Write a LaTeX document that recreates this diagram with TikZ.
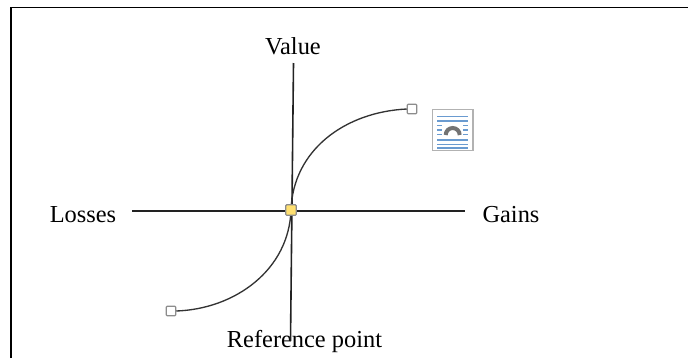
\documentclass[tikz,border=0pt]{standalone}
\usepackage{fontspec}
\setmainfont{Liberation Serif}
\definecolor{axisc}{HTML}{222222}
\definecolor{curvec}{HTML}{333333}
\definecolor{handleb}{HTML}{8C8C8C}
\definecolor{handley}{HTML}{FFE070}
\definecolor{iconb}{HTML}{6A9BD0}
\tikzset{
  px/.style={x=0.75pt,y=-0.75pt},
  lbl/.style={font=\fontsize{18.3}{20}\selectfont,text=black,inner sep=0pt},
  axisline/.style={draw=axisc,line width=1.2pt},
  curveline/.style={draw=curvec,line width=1pt},
  handle/.style={draw=handleb,fill=white,line width=0.9pt,minimum size=7pt,inner sep=0pt,rounded corners=0.6pt},
  refhandle/.style={handle,fill=handley,draw=handleb,minimum size=7.8pt},
  stripe/.style={draw=iconb,line width=0.85pt}
}
\begin{document}
\begin{tikzpicture}[px]
\useasboundingbox (0,0) rectangle (688,358);
\fill[white] (0,0) rectangle (688,358);
\draw[draw=black,line width=0.8pt] (11,358) -- (11,7.5) -- (688,7.5);
\node[lbl] (value) at (293,46) {Value};
\node[lbl] (losses) at (83,215) {Losses};
\node[lbl] (gains) at (511,215) {Gains};
\node[lbl] (ref) at (304.5,341) {Reference point};
\coordinate (vtop) at (293.5,63);
\coordinate (vbot) at (290.5,341);
\coordinate (hl) at (132,211);
\coordinate (hr) at (465,211);
\coordinate (originpt) at (291,210);
\draw[axisline] (vtop) -- (vbot);
\draw[axisline] (hl) -- (hr);
\node[handle] (end1) at (412,109) {};
\node[handle] (end2) at (171,311) {};
\draw[curveline] (end1.west) .. controls (345,112) and (293,150) .. (originpt);
\draw[curveline] (end2.east) .. controls (235,309) and (289,270) .. (originpt);
\node[refhandle] (origin) at (originpt) {};
% layout-options icon
\node[draw=black!30,fill=white,line width=1pt,minimum width=30.5pt,minimum height=31pt,inner sep=0pt] (icon) at (452.5,130) {};
\foreach \y in {116.7,121,140,144.3,148}{\draw[stripe] (437,\y) -- (468,\y);}
\foreach \y in {125.7,130,134.3}{\draw[stripe] (437,\y) -- (441.7,\y); \draw[stripe] (463,\y) -- (468,\y);}
\draw[draw=black!55,line width=3pt] (445.7,135) arc[start angle=180,end angle=360,radius=7];
\end{tikzpicture}
\end{document}
